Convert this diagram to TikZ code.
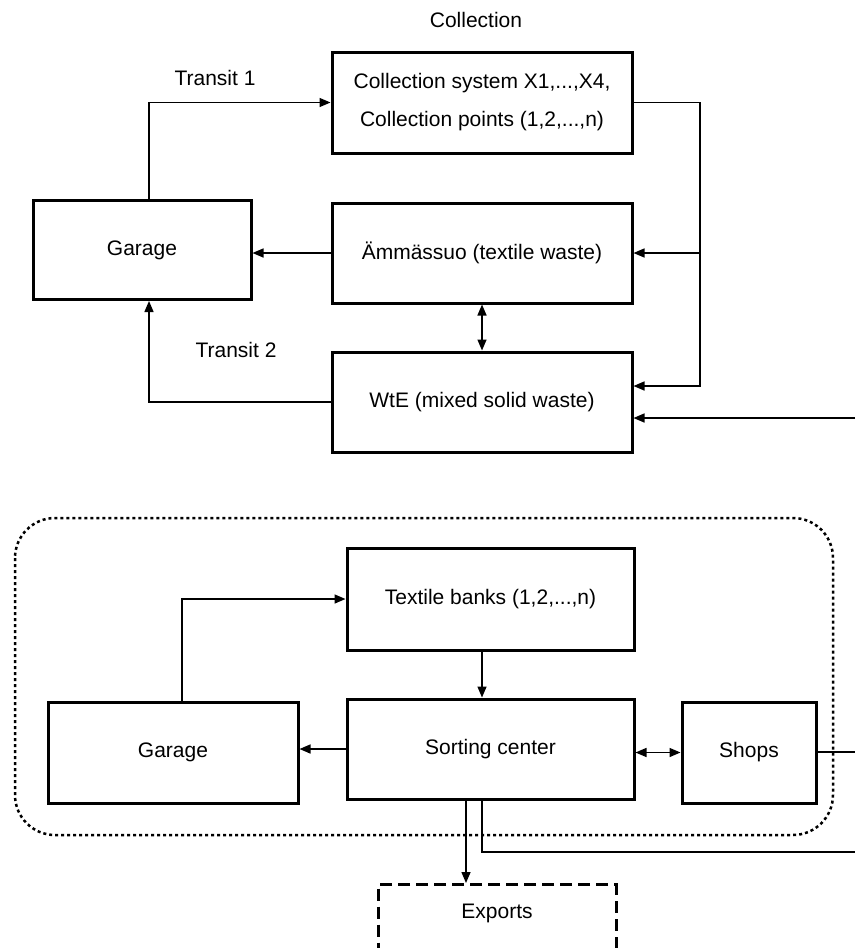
\documentclass[tikz,border=0pt]{standalone}
\usepackage{fontspec}
\setmainfont{Liberation Sans}
\usetikzlibrary{arrows.meta}

\begin{document}
\begin{tikzpicture}[x=1pt, y=-1pt,
    box/.style={draw, line width=3pt, align=center, font=\fontsize{21}{38}\selectfont},
    conn/.style={line width=1.5pt, -{Triangle[length=11pt,width=9pt]}},
    both/.style={line width=1.5pt, {Triangle[length=11pt,width=9pt]}-{Triangle[length=11pt,width=9pt]}},
    lbl/.style={font=\fontsize{21}{25}\selectfont}]
    \useasboundingbox (0,0) rectangle (855,948);
    \clip (0,0) rectangle (855,948);

    % Collection part
    \node[lbl] (colltitle) at (476,20) {Collection};
    \node[box, minimum width=300pt, minimum height=101pt] (coll) at (482,102.5) {Collection system X1,...,X4,\\Collection points (1,2,...,n)};
    \node[box, minimum width=218pt, minimum height=99pt] (gar1) at (142,250) {Garage};
    \node[box, minimum width=300pt, minimum height=100pt] (amm) at (482,253) {Ämmässuo (textile waste)};
    \node[box, minimum width=300pt, minimum height=100pt] (wte) at (482,402) {WtE (mixed solid waste)};
    \node[lbl] (tr1) at (215,78) {Transit 1};
    \node[lbl] (tr2) at (236,350) {Transit 2};

    % Transit routes
    \draw[conn] ([xshift=7pt]gar1.north) |- (coll.west);
    \draw[conn] (amm.west) -- (amm.west -| gar1.east);
    \draw[conn] (wte.west) -| ([xshift=7pt]gar1.south);
    \draw[both] (amm.south) -- (wte.north);

    % Right-hand bus
    \coordinate (bus) at (700,386);
    \coordinate (in1) at (855,418);
    \draw[conn] (coll.east) -| (bus) -- (bus -| wte.east);
    \draw[conn] (bus |- amm.east) -- (amm.east);
    \draw[conn] (in1) -- (in1 -| wte.east);

    % Textile collection part
    \draw[line width=2.5pt, dash pattern=on 3pt off 3pt, rounded corners=40pt] (15,518) rectangle (833,835);
    \node[box, minimum width=287pt, minimum height=102pt] (tb) at (490.5,599) {Textile banks (1,2,...,n)};
    \node[box, minimum width=250pt, minimum height=101pt] (gar2) at (173,752.5) {Garage};
    \node[box, minimum width=287pt, minimum height=100pt] (sort) at (490.5,749) {Sorting center};
    \node[box, minimum width=134pt, minimum height=101pt] (shops) at (749,752.5) {Shops};
    \node[box, dash pattern=on 12pt off 6pt, anchor=north, minimum width=238pt,
          inner sep=0pt, text height=34pt, text depth=80pt] (exp) at (497,883) {Exports};

    \draw[conn] ([xshift=9pt]gar2.north) |- (tb.west);
    \draw[conn] ([xshift=-8.5pt]tb.south) -- ([xshift=-8.5pt]sort.north);
    \draw[conn] (sort.west) -- (sort.west -| gar2.east);
    \draw[both] (sort.east |- shops.west) -- (shops.west);

    % Outgoing flows
    \coordinate (out1) at (855,752);
    \coordinate (out2) at (855,852);
    \draw[line width=1.5pt] (shops.east |- out1) -- (out1);
    \draw[line width=1.5pt] ([xshift=-8.5pt]sort.south) |- (out2);
    \draw[conn] ([xshift=-24.5pt]sort.south) -- ([xshift=-24.5pt]sort.south |- exp.north);
\end{tikzpicture}
\end{document}
